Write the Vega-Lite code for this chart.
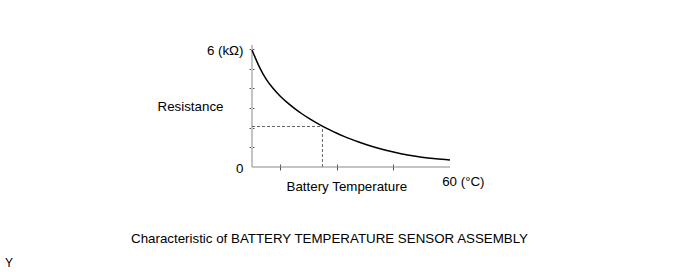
{
  "$schema": "https://vega.github.io/schema/vega-lite/v6.json",
  "width": 198,
  "height": 118,
  "autosize": "none",
  "padding": {"left": 252, "top": 49, "right": 240, "bottom": 105},
  "background": "white",
  "config": {"view": {"stroke": null}, "font": "Liberation Sans"},
  "title": {"text": "Y", "orient": "bottom", "anchor": "start", "frame": "bounds", "fontSize": 12, "fontWeight": "normal", "color": "black", "baseline": "top", "offset": 14, "dx": -125},
  "datasets": {
    "curve": [
      {"t": -10, "r": 5.95}, {"t": -7.5, "r": 5.12}, {"t": -5, "r": 4.47}, {"t": -2.5, "r": 3.99},
      {"t": 0, "r": 3.6}, {"t": 2.5, "r": 3.27}, {"t": 5, "r": 2.98}, {"t": 7.5, "r": 2.72},
      {"t": 10, "r": 2.485}, {"t": 12.5, "r": 2.27}, {"t": 15, "r": 2.07}, {"t": 17.5, "r": 1.885},
      {"t": 20, "r": 1.715}, {"t": 22.5, "r": 1.56}, {"t": 25, "r": 1.415}, {"t": 27.5, "r": 1.28},
      {"t": 30, "r": 1.16}, {"t": 35, "r": 0.94}, {"t": 40, "r": 0.76}, {"t": 45, "r": 0.61},
      {"t": 50, "r": 0.5}, {"t": 55, "r": 0.42}, {"t": 60, "r": 0.36}
    ],
    "guides": [
      {"t": -10, "t2": 14.9, "r": 2.06, "r2": 2.06},
      {"t": 14.9, "t2": 14.9, "r": 0, "r2": 2.06}
    ],
    "xline": [{"t": -10, "t2": 60, "r": 0, "r2": 0}],
    "yline": [{"t": -10, "t2": -10, "r": 0, "r2": 6.2}]
  },
  "resolve": {"axis": {"y": "independent"}},
  "layer": [
    {
      "data": {"name": "yline"},
      "mark": {"type": "rule", "color": "#c4c4c4", "strokeWidth": 2},
      "encoding": {
        "x": {"field": "t", "type": "quantitative", "scale": {"domain": [-10, 60], "nice": false, "zero": false}},
        "x2": {"field": "t2"},
        "y": {"field": "r", "type": "quantitative", "scale": {"domain": [0, 6], "nice": false, "zero": false}, "axis": null},
        "y2": {"field": "r2"}
      }
    },
    {
      "data": {"name": "xline"},
      "mark": {"type": "rule", "color": "#8a8a8a", "strokeWidth": 1},
      "encoding": {
        "x": {"field": "t", "type": "quantitative"},
        "x2": {"field": "t2"},
        "y": {"field": "r", "type": "quantitative", "axis": {"orient": "right", "domain": false, "ticks": false, "labels": false, "grid": false, "title": "Characteristic of BATTERY TEMPERATURE SENSOR ASSEMBLY", "titleAngle": 0, "titleX": -121, "titleY": 189, "titleAlign": "center", "titleBaseline": "middle", "titleFontSize": 13.33, "titleFontWeight": "normal", "titleColor": "black"}},
        "y2": {"field": "r2"}
      }
    },
    {
      "data": {"name": "guides"},
      "mark": {"type": "rule", "color": "#666666", "strokeWidth": 1, "strokeDash": [3, 2]},
      "encoding": {
        "x": {"field": "t", "type": "quantitative"},
        "x2": {"field": "t2"},
        "y": {"field": "r", "type": "quantitative", "axis": null},
        "y2": {"field": "r2"}
      }
    },
    {
      "data": {"name": "curve"},
      "mark": {"type": "line", "color": "black", "strokeWidth": 1.5, "interpolate": "monotone"},
      "encoding": {
        "x": {"field": "t", "type": "quantitative", "axis": {
          "values": [0, 10, 20, 30, 40, 50, 60], "domain": false, "grid": false, "offset": -3, "tickSize": 6,
          "tickColor": {"condition": {"test": "datum.value == 60", "value": "transparent"}, "value": "#555555"},
          "labelExpr": "datum.value == 60 ? '60 (°C)' : ''", "labelFlush": false, "labelAlign": "left", "labelOffset": -8.3,
          "labelBaseline": "middle", "labelPadding": 11, "labelFontSize": 13.33, "labelColor": "black",
          "title": "Battery Temperature", "titleFontSize": 13.33, "titleFontWeight": "normal", "titleColor": "black",
          "titleX": 94.3, "titleY": 22, "titleAlign": "center", "titleBaseline": "middle"}},
        "y": {"field": "r", "type": "quantitative", "axis": {
          "orient": "left", "values": [0, 1, 2, 3, 4, 5, 6], "domain": false, "grid": false, "offset": -2, "tickSize": 5,
          "tickColor": {"condition": {"test": "datum.value == 0", "value": "transparent"}, "value": "#555555"},
          "labelExpr": "datum.value == 6 ? '6 (kΩ)' : datum.value == 0 ? '0' : ''", "labelPadding": 6, "labelOffset": 1,
          "labelFontSize": 13.33, "labelColor": "black",
          "title": "Resistance", "titleAngle": 0, "titleX": -64, "titleY": 57, "titleAlign": "center", "titleBaseline": "middle",
          "titleFontSize": 13.33, "titleFontWeight": "normal", "titleColor": "black"}}
      }
    }
  ]
}
